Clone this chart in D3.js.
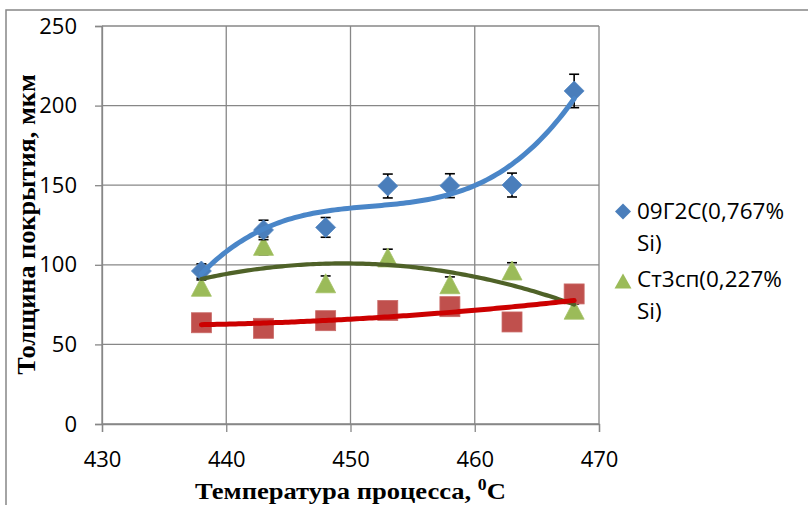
<!DOCTYPE html>
<html><head><meta charset="utf-8">
<script src="https://cdn.jsdelivr.net/npm/d3@7"></script>
<style>
html,body{margin:0;padding:0;background:#fff;}
svg{display:block;}
</style></head>
<body>
<svg id="chart" width="808" height="505"></svg>
<script>
// ---- data ----
const temps = [438, 443, 448, 453, 458, 463, 468];
const seriesA = [96.1, 121.9, 123.5, 149.5, 149.7, 150.1, 209.2];   // 09Г2С(0,767% Si)
const errA    = [4.5, 6.1, 6.2, 7.5, 7.5, 7.5, 10.5];
const seriesB = [86.2, 111.9, 88.4, 104.6, 87.8, 96.4, 71.8];       // Ст3сп(0,227% Si)
const errB    = [4.3, 5.6, 4.6, 5.2, 4.6, 4.9, 3.6];
const seriesC = [63.6, 60.1, 64.9, 71.3, 73.7, 64.1, 81.7];         // third series (no legend entry)
const errC    = [3.2, 3.0, 3.2, 3.6, 3.7, 3.2, 4.1];
const xTicks = [430, 440, 450, 460, 470];
const yTicks = [0, 50, 100, 150, 200, 250];
const legendA = ["09Г2С(0,767%", "Si)"];
const legendB = ["Ст3сп(0,227%", "Si)"];
const xTitle = "Температура процесса, ";
const yTitle = "Толщина покрытия, мкм";

// ---- helpers: least-squares polynomial trendline ----
function polyFit(xs, ys, order, x0) {
  const n = order + 1;
  const A = Array.from({length: n}, () => new Array(n + 1).fill(0));
  xs.forEach((xv, k) => {
    const t = xv - x0;
    for (let i = 0; i < n; i++) {
      for (let j = 0; j < n; j++) A[i][j] += Math.pow(t, i + j);
      A[i][n] += ys[k] * Math.pow(t, i);
    }
  });
  for (let i = 0; i < n; i++) {
    let p = i;
    for (let r = i + 1; r < n; r++) if (Math.abs(A[r][i]) > Math.abs(A[p][i])) p = r;
    [A[i], A[p]] = [A[p], A[i]];
    for (let r = 0; r < n; r++) {
      if (r === i) continue;
      const f = A[r][i] / A[i][i];
      for (let c = i; c <= n; c++) A[r][c] -= f * A[i][c];
    }
  }
  const coef = A.map((row, i) => row[n] / row[i]);
  return xv => coef.reduce((s, c, i) => s + c * Math.pow(xv - x0, i), 0);
}

// ---- layout ----
const svg = d3.select("#chart");
const x = d3.scaleLinear().domain([430, 470]).range([102, 599]);
const y = d3.scaleLinear().domain([0, 250]).range([424, 26]);
const gridColor = "#878787";

// outer chart border (top & left visible)
svg.append("path").attr("d", "M6,505 L6,10 L808,10")
  .attr("fill", "none").attr("stroke", gridColor).attr("stroke-width", 1.5);

// gridlines
svg.append("g").selectAll("line.h").data(yTicks).join("line")
  .attr("x1", x(430)).attr("x2", x(470)).attr("y1", d => y(d)).attr("y2", d => y(d))
  .attr("stroke", gridColor).attr("stroke-width", 1.3);
svg.append("g").selectAll("line.v").data(xTicks).join("line")
  .attr("y1", y(0)).attr("y2", y(250)).attr("x1", d => x(d)).attr("x2", d => x(d))
  .attr("stroke", gridColor).attr("stroke-width", 1.3);

// axes
const fontTick = "'Open Sans', Lato, sans-serif";
const yAxis = svg.append("g").attr("transform", `translate(${x(430)},0)`)
  .call(d3.axisLeft(y).tickValues(yTicks).tickSize(7).tickPadding(18).tickFormat(d3.format("d")));
const xAxis = svg.append("g").attr("transform", `translate(0,${y(0)})`)
  .call(d3.axisBottom(x).tickValues(xTicks).tickSize(8).tickPadding(19).tickFormat(d3.format("d")));
[yAxis, xAxis].forEach(g => {
  g.select(".domain").attr("stroke", gridColor).attr("stroke-width", 1.3);
  g.selectAll(".tick line").attr("stroke", gridColor).attr("stroke-width", 1.3);
  g.selectAll(".tick text").attr("fill", "#000").style("font-family", fontTick).style("font-size", "22px");
});

// error bars
function errorBars(vals, errs, cls) {
  const g = svg.append("g").attr("class", cls);
  temps.forEach((t, i) => {
    const cx = x(t), yt = y(vals[i] + errs[i]), yb = y(vals[i] - errs[i]);
    g.append("line").attr("x1", cx).attr("x2", cx).attr("y1", yt).attr("y2", yb);
    g.append("line").attr("x1", cx - 5).attr("x2", cx + 5).attr("y1", yt).attr("y2", yt);
    g.append("line").attr("x1", cx - 5).attr("x2", cx + 5).attr("y1", yb).attr("y2", yb);
  });
  g.selectAll("line").attr("stroke", "#000").attr("stroke-width", 1.6);
}

const diamond = (cx, cy, r) => `M${cx},${cy - r}L${cx + r},${cy}L${cx},${cy + r}L${cx - r},${cy}Z`;
const triangle = (cx, cy, w, h) => `M${cx},${cy - h / 2}L${cx + w / 2},${cy + h / 2}L${cx - w / 2},${cy + h / 2}Z`;

// green triangles (bottom)
errorBars(seriesB, errB, "errB");
svg.append("g").selectAll("path").data(seriesB).join("path")
  .attr("d", (d, i) => triangle(x(temps[i]), y(d), 20, 19))
  .attr("fill", "#9BBB59").attr("stroke", "#A5C266").attr("stroke-width", 0.8);

// red squares
errorBars(seriesC, errC, "errC");
svg.append("g").selectAll("rect").data(seriesC).join("rect")
  .attr("x", (d, i) => x(temps[i]) - 10).attr("y", d => y(d) - 10)
  .attr("width", 20).attr("height", 20)
  .attr("fill", "#C0504D").attr("stroke", "#C96A67").attr("stroke-width", 0.8);

// blue diamonds
errorBars(seriesA, errA, "errA");
svg.append("g").selectAll("path").data(seriesA).join("path")
  .attr("d", (d, i) => diamond(x(temps[i]), y(d), 10))
  .attr("fill", "#4A7EBB").attr("stroke", "#5589C4").attr("stroke-width", 0.8);

// trendlines
const samples = d3.range(438, 468.001, 0.25);
const line = d3.line().x(d => x(d[0])).y(d => y(d[1])).curve(d3.curveLinear);
function trend(vals, order, color, width) {
  const f = polyFit(temps, vals, order, 453);
  svg.append("path").datum(samples.map(t => [t, f(t)]))
    .attr("d", line).attr("fill", "none").attr("stroke", color)
    .attr("stroke-width", width).attr("stroke-linecap", "round");
}
trend(seriesB, 2, "#4F6228", 4.2);
trend(seriesA, 3, "#4A86C8", 5);
trend(seriesC, 2, "#CC0000", 5);

// axis titles (stretched horizontally to the reference widths)
const serif = "'Liberation Serif', 'Times New Roman', serif";
const xtG = svg.append("g");
const xt = xtG.append("text").attr("x", 0).attr("y", 0).attr("text-anchor", "middle")
  .style("font-family", serif).style("font-weight", "bold").style("font-size", "24px");
xt.append("tspan").text(xTitle);
xt.append("tspan").attr("dy", -9).style("font-size", "16px").text("0");
xt.append("tspan").attr("dy", 9).text("C");
const xw = xt.node().getComputedTextLength();
xtG.attr("transform", `translate(350.5,499) scale(${311 / xw},1)`);

const ytG = svg.append("g");
const yt = ytG.append("text").attr("x", 0).attr("y", 0).attr("text-anchor", "middle")
  .style("font-family", serif).style("font-weight", "bold").style("font-size", "25px").text(yTitle);
const yw = yt.node().getComputedTextLength();
ytG.attr("transform", `translate(35,224.5) rotate(-90) scale(${301 / yw},1)`);

// legend
const lg = svg.append("g").style("font-family", fontTick).style("font-size", "22.5px");
lg.append("path").attr("d", diamond(623, 211.5, 8)).attr("fill", "#4A7EBB");
lg.append("path").attr("d", triangle(623, 281, 17, 15)).attr("fill", "#9BBB59");
[[legendA, 219], [legendB, 287]].forEach(([lines, base]) => {
  lines.forEach((t, i) => lg.append("text").attr("x", 637).attr("y", base + i * 31.5).text(t));
});
</script>
</body></html>
